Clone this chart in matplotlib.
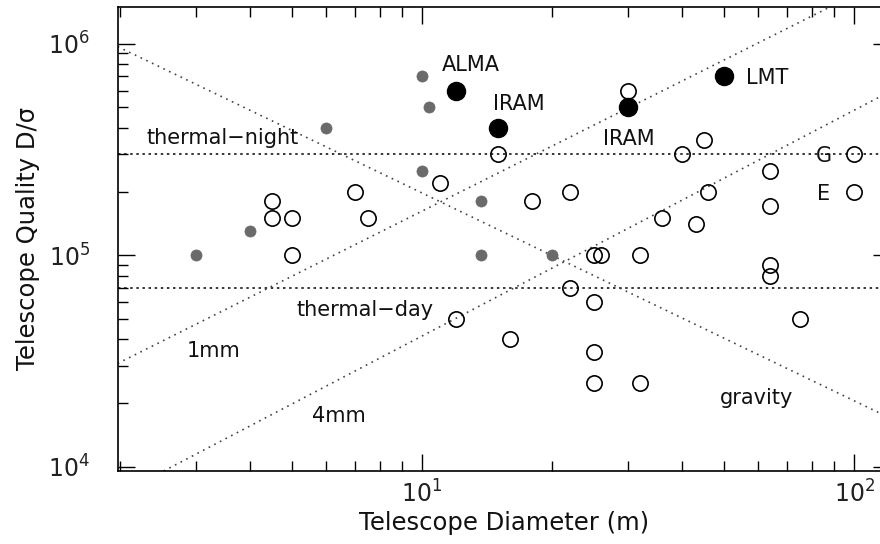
import numpy as np
import matplotlib
matplotlib.use("Agg")
import matplotlib.pyplot as plt
from matplotlib.ticker import LogLocator, NullFormatter, FixedLocator, FixedFormatter

plt.rcParams['font.family'] = ['DejaVu Sans']
plt.rcParams['mathtext.default'] = 'regular'

# ---- data ----
open_D = [4.5, 4.5, 5, 5, 7, 7.5, 11, 15, 18, 30, 22, 40, 45, 46, 36, 43,
          25, 26, 32, 64, 64, 100, 100, 64, 64, 75, 22, 25, 25, 25, 32, 12, 16]
open_q = [1.8e5, 1.5e5, 1.5e5, 1e5, 2e5, 1.5e5, 2.2e5, 3e5, 1.8e5, 6e5, 2e5, 3e5,
          3.5e5, 2e5, 1.5e5, 1.4e5, 1e5, 1e5, 1e5, 2.5e5, 1.7e5, 3e5, 2e5, 9e4,
          8e4, 5e4, 7e4, 6e4, 3.5e4, 2.5e4, 2.5e4, 5e4, 4e4]

gray_D = [3, 4, 6, 10, 10.4, 10, 13.7, 13.7, 20]
gray_q = [1e5, 1.3e5, 4e5, 7e5, 5e5, 2.5e5, 1.8e5, 1e5, 1e5]

big_names = ['ALMA', 'IRAM', 'IRAM', 'LMT']
big_D = [12, 15, 30, 50]
big_q = [6e5, 4e5, 5e5, 7e5]
big_label_D = [11.14, 14.58, 26.2, 56.2]
big_label_q = [7.43e5, 4.86e5, 3.32e5, 6.43e5]

# reference lines (endpoints)
thermal_night_q = 3e5
thermal_day_q = 7e4
gravity_D = [1.98, 121]
gravity_q = [9.68e5, 1.70e4]
mm1_D = [1.98, 87.9]
mm1_q = [3.08e4, 1.49e6]
mm4_D = [2.53, 121]
mm4_q = [9.55e3, 5.94e5]

line_labels = ['thermal\u2212night', 'thermal\u2212day', '1mm', '4mm', 'gravity', 'G', 'E']
line_label_D = [2.306, 5.14, 2.853, 5.57, 48.9, 81.4, 82.0]
line_label_q = [3.36e5, 5.16e4, 3.31e4, 1.63e4, 1.98e4, 2.77e5, 1.82e5]

x_ticks = [10, 100]
x_ticklabels = ['$10^{1}$', '$10^{2}$']
y_ticks = [1e4, 1e5, 1e6]
y_ticklabels = ['$10^{4}$', '$10^{5}$', '$10^{6}$']

# ---- figure ----
fig = plt.figure(figsize=(8.8, 5.44), dpi=100)
ax = fig.add_axes([117.7 / 880, 73 / 544, (890 - 117.7) / 880, 464 / 544])
ax.set_xscale('log')
ax.set_yscale('log')
ax.set_xlim(1.98, 121)
ax.set_ylim(9.55e3, 1.49e6)

hl = dict(color='black', lw=1.1, ls=(0, (1.6, 2.4)), zorder=1)
ax.axhline(thermal_night_q, **hl)
ax.axhline(thermal_day_q, **hl)
dl = dict(color='#444444', lw=1.2, ls=(0, (1, 2.8)), zorder=1)
ax.plot(gravity_D, gravity_q, **dl)
ax.plot(mm1_D, mm1_q, **dl)
ax.plot(mm4_D, mm4_q, **dl)

ax.plot(open_D, open_q, 'o', ms=11, mfc='none', mec='black', mew=1.2, zorder=3)
ax.plot(gray_D, gray_q, 'o', ms=8, mfc='#6a6a6a', mec='#6a6a6a', mew=0.5, zorder=3)
ax.plot(big_D, big_q, 'o', ms=13, mfc='black', mec='black', zorder=4)

for name, xd, yd in zip(big_names, big_label_D, big_label_q):
    ax.text(xd, yd, name, fontsize=15, ha='left', va='baseline', color='#111111')
for name, xd, yd in zip(line_labels, line_label_D, line_label_q):
    ax.text(xd, yd, name, fontsize=15, ha='left', va='baseline', color='#111111', zorder=2)

ax.xaxis.set_major_locator(FixedLocator(x_ticks))
ax.xaxis.set_major_formatter(FixedFormatter(x_ticklabels))
ax.yaxis.set_major_locator(FixedLocator(y_ticks))
ax.yaxis.set_major_formatter(FixedFormatter(y_ticklabels))
ax.xaxis.set_minor_locator(LogLocator(base=10, subs=np.arange(2, 10)))
ax.yaxis.set_minor_locator(LogLocator(base=10, subs=np.arange(2, 10)))
ax.xaxis.set_minor_formatter(NullFormatter())
ax.yaxis.set_minor_formatter(NullFormatter())

ax.tick_params(which='both', direction='in', top=True, right=True, width=1.0, colors='black')
ax.tick_params(which='major', length=12.5)
ax.tick_params(which='minor', length=7)
ax.tick_params(axis='x', which='major', labelsize=17, pad=7)
ax.tick_params(axis='y', which='major', labelsize=17, pad=20)
for t in ax.get_xticklabels() + ax.get_yticklabels():
    t.set_color('#222222')

for s in ax.spines.values():
    s.set_linewidth(1.2)

ax.set_xlabel('Telescope Diameter (m)', fontsize=17.5, color='#111111', labelpad=2)
ax.set_ylabel('Telescope Quality D/\u03c3', fontsize=17.5, color='#111111', labelpad=6)

fig.savefig('out.png', dpi=100)
